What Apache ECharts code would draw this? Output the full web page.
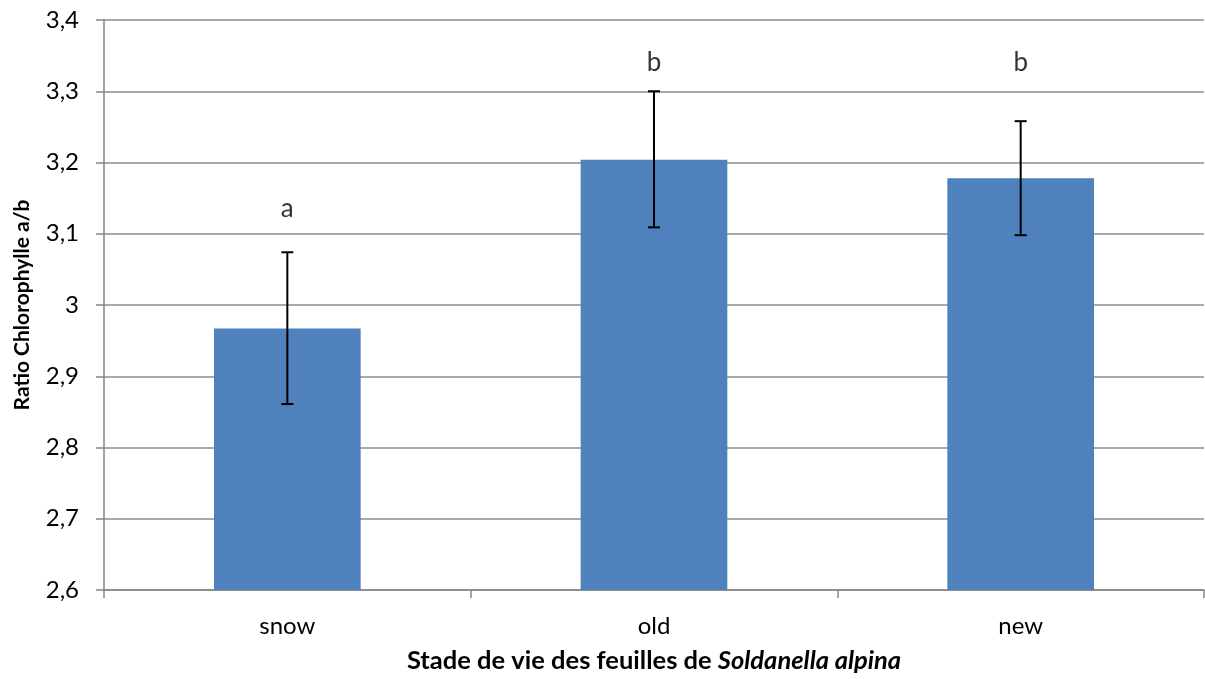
<!DOCTYPE html>
<html>
<head>
<meta charset="utf-8">
<style>
  html, body { margin: 0; padding: 0; background: #fff; }
  #chart { width: 1205px; height: 679px; }
</style>
<script src="https://cdn.jsdelivr.net/npm/echarts@6/dist/echarts.min.js"></script>
</head>
<body>
<div id="chart"></div>
<script>
var categories = ['snow', 'old', 'new'];
var means = [2.967, 3.204, 3.178];
var errLow = [2.861, 3.109, 3.098];
var errHigh = [3.074, 3.300, 3.258];
var letters = ['a', 'b', 'b'];
var letterPos = [3.135, 3.340, 3.340];
var yTicks = { min: 2.6, max: 3.4, interval: 0.1 };

var FONT = 'Lato, "Open Sans", sans-serif';

var chart = echarts.init(document.getElementById('chart'));

// barres d'erreur dessinées à la main
function renderError(params, api) {
    var x = api.value(0);
    var top = api.coord([x, api.value(2)]);
    var bottom = api.coord([x, api.value(1)]);
    var half = 6;
    var style = { stroke: '#000', lineWidth: 2 };
    return {
        type: 'group',
        children: [
            { type: 'line', shape: { x1: top[0], y1: top[1], x2: bottom[0], y2: bottom[1] }, style: style },
            { type: 'line', shape: { x1: top[0] - half, y1: top[1], x2: top[0] + half, y2: top[1] }, style: style },
            { type: 'line', shape: { x1: bottom[0] - half, y1: bottom[1], x2: bottom[0] + half, y2: bottom[1] }, style: style }
        ]
    };
}

var option = {
    animation: false,
    grid: { left: 104, right: 1, top: 20, bottom: 89, containLabel: false, outerBoundsMode: 'none' },
    xAxis: {
        type: 'category',
        data: categories,
        axisLine: { lineStyle: { color: '#868686', width: 1.5 } },
        axisTick: { show: true, length: 8, lineStyle: { color: '#868686', width: 1.5 } },
        axisLabel: { color: '#000', fontSize: 24, fontFamily: FONT, margin: 24 },
        name: '{b|Stade de vie des feuilles de }{i|Soldanella alpina}',
        nameLocation: 'middle',
        nameGap: 58,
        nameTextStyle: {
            rich: {
                b: { fontSize: 25.5, fontWeight: 'bold', fontFamily: FONT, color: '#000' },
                i: { fontSize: 25.5, fontWeight: 'bold', fontStyle: 'italic', fontFamily: FONT, color: '#000' }
            }
        }
    },
    yAxis: {
        type: 'value',
        min: yTicks.min,
        max: yTicks.max,
        interval: yTicks.interval,
        axisLine: { show: true, lineStyle: { color: '#868686', width: 1.5 } },
        axisTick: { show: true, length: 8, lineStyle: { color: '#868686', width: 1.5 } },
        splitLine: { lineStyle: { color: '#8c8c8c', width: 1.5 } },
        axisLabel: {
            color: '#000', fontSize: 24, fontFamily: FONT, margin: 25,
            formatter: function (v) { return String(+v.toFixed(1)).replace('.', ','); }
        },
        name: 'Ratio Chlorophylle a/b',
        nameLocation: 'middle',
        nameGap: 71,
        nameTextStyle: { fontSize: 21, fontWeight: 'bold', fontFamily: FONT, color: '#000' }
    },
    series: [
        {
            type: 'bar',
            data: means,
            barWidth: '40%',
            itemStyle: { color: '#4F81BD' }
        },
        {
            type: 'custom',
            renderItem: renderError,
            encode: { x: 0, y: [1, 2] },
            data: categories.map(function (c, i) { return [i, errLow[i], errHigh[i]]; }),
            z: 5
        },
        {
            type: 'scatter',
            symbolSize: 0,
            data: categories.map(function (c, i) { return [i, letterPos[i]]; }),
            label: {
                show: true,
                position: 'inside',
                color: '#000',
                fontSize: 26,
                fontFamily: FONT,
                formatter: function (p) { return letters[p.dataIndex]; }
            }
        }
    ]
};

chart.setOption(option);
</script>
</body>
</html>
